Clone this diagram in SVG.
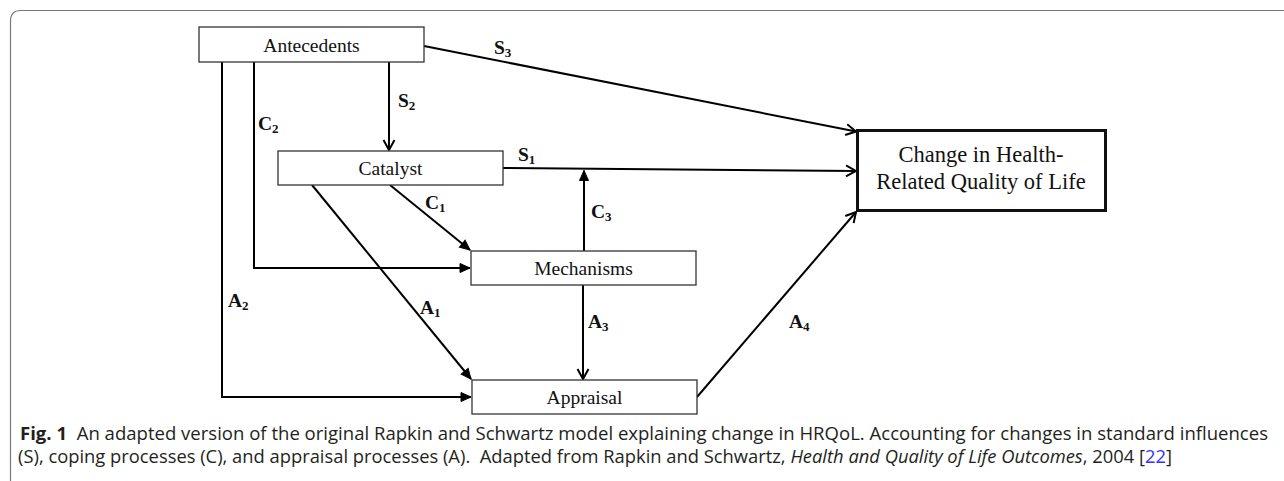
<svg xmlns="http://www.w3.org/2000/svg" width="1284" height="481" viewBox="0 0 1284 481">
<style>
.box{fill:#fff;stroke:#333;stroke-width:1.3}
.big{fill:#fff;stroke:#111;stroke-width:3}
.nt{font-family:"Liberation Serif","Times New Roman",serif;font-size:19.5px;fill:#111;text-anchor:middle}
.bt{font-family:"Liberation Serif","Times New Roman",serif;font-size:22.5px;fill:#111;text-anchor:middle}
.lb{font-family:"Liberation Serif","Times New Roman",serif;font-size:19.5px;font-weight:bold;fill:#111}
.sub{font-size:13px}
.c{fill:none;stroke:#000;stroke-width:2}
.cap{font-family:"Open Sans","Noto Sans","Liberation Sans",sans-serif;font-size:18.5px;fill:#231f20}
</style>
<defs>
<marker id="v" viewBox="-12 -7 14 14" refX="0" refY="0" markerWidth="14" markerHeight="14" markerUnits="userSpaceOnUse" orient="auto">
<path d="M-10,-5.5 L0,0 L-10,5.5" fill="none" stroke="#000" stroke-width="2"/>
</marker>
<marker id="f" viewBox="-12 -7 14 14" refX="0" refY="0" markerWidth="14" markerHeight="14" markerUnits="userSpaceOnUse" orient="auto">
<path d="M-10,-4.5 L0,0 L-10,4.5 z" fill="#000" stroke="#000" stroke-width="1"/>
</marker>
</defs>
<rect width="1284" height="481" fill="#fff"/>
<path d="M10.5,481 L10.5,21 Q10.5,10.5 21,10.5 L1284,10.5" fill="none" stroke="#777" stroke-width="1.2"/>

<g id="connectors">
<line class="c" x1="424" y1="46" x2="856" y2="131.5" marker-end="url(#v)"/>
<line class="c" x1="389" y1="62" x2="389" y2="150" marker-end="url(#v)"/>
<line class="c" x1="503" y1="168" x2="856" y2="171" marker-end="url(#v)"/>
<line class="c" x1="584" y1="251" x2="584" y2="170.5" marker-end="url(#f)"/>
<line class="c" x1="390" y1="185" x2="470" y2="250" marker-end="url(#f)"/>
<line class="c" x1="312" y1="185" x2="471" y2="379" marker-end="url(#f)"/>
<polyline class="c" points="254,62 254,268 470,268" marker-end="url(#f)"/>
<polyline class="c" points="222,62 222,397 471,397" marker-end="url(#f)"/>
<line class="c" x1="583" y1="285" x2="583" y2="379" marker-end="url(#v)"/>
<line class="c" x1="697" y1="397" x2="856" y2="212" marker-end="url(#v)"/>
</g>

<g id="labels">
<text class="lb" x="494" y="54">S<tspan class="sub" dy="3">3</tspan></text>
<text class="lb" x="398" y="107">S<tspan class="sub" dy="3">2</tspan></text>
<text class="lb" x="258" y="130">C<tspan class="sub" dy="3">2</tspan></text>
<text class="lb" x="518" y="161">S<tspan class="sub" dy="3">1</tspan></text>
<text class="lb" x="425" y="209">C<tspan class="sub" dy="3">1</tspan></text>
<text class="lb" x="591" y="218">C<tspan class="sub" dy="3">3</tspan></text>
<text class="lb" x="228" y="307">A<tspan class="sub" dy="3">2</tspan></text>
<text class="lb" x="420" y="314">A<tspan class="sub" dy="3">1</tspan></text>
<text class="lb" x="588" y="328">A<tspan class="sub" dy="3">3</tspan></text>
<text class="lb" x="789" y="328">A<tspan class="sub" dy="3">4</tspan></text>
</g>

<g id="antecedents">
<rect class="box" x="199" y="27" width="225" height="35"/>
<text class="nt" x="311.5" y="52">Antecedents</text>
</g>
<g id="catalyst">
<rect class="box" x="278" y="151" width="225" height="34"/>
<text class="nt" x="390.5" y="175">Catalyst</text>
</g>
<g id="mechanisms">
<rect class="box" x="471" y="251" width="225" height="34"/>
<text class="nt" x="583.5" y="275">Mechanisms</text>
</g>
<g id="appraisal">
<rect class="box" x="472" y="380" width="225" height="34"/>
<text class="nt" x="584.5" y="404">Appraisal</text>
</g>
<g id="change">
<rect class="big" x="857.5" y="130.5" width="248" height="80"/>
<text class="bt" x="981" y="162">Change in Health-</text>
<text class="bt" x="981" y="189">Related Quality of Life</text>
</g>

<g id="caption">
<text class="cap" xml:space="preserve" x="20" y="440" textLength="1248" lengthAdjust="spacingAndGlyphs"><tspan font-weight="bold">Fig. 1</tspan>  An adapted version of the original Rapkin and Schwartz model explaining change in HRQoL. Accounting for changes in standard influences</text>
<text class="cap" xml:space="preserve" x="18" y="463" textLength="1154" lengthAdjust="spacingAndGlyphs">(S), coping processes (C), and appraisal processes (A).  Adapted from Rapkin and Schwartz, <tspan font-style="italic">Health and Quality of Life Outcomes</tspan>, 2004 [<tspan fill="#3333ff">22</tspan>]</text>
</g>
</svg>
